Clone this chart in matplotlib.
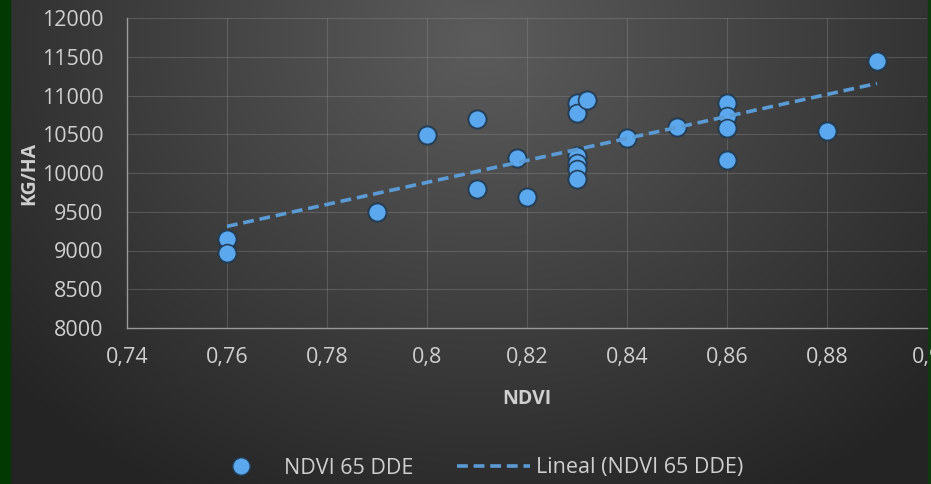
import numpy as np
import matplotlib
matplotlib.use('Agg')
import matplotlib.pyplot as plt
from matplotlib.ticker import FuncFormatter, MultipleLocator
from matplotlib.lines import Line2D
from matplotlib.patches import Rectangle

plt.rcParams['font.family'] = ['Open Sans', 'DejaVu Sans']

# NDVI vs yield readings
ndvi = [0.76, 0.76, 0.79, 0.80, 0.81, 0.81, 0.818, 0.82,
        0.83, 0.83, 0.832, 0.83, 0.83, 0.83, 0.83,
        0.84, 0.85, 0.86, 0.86, 0.86, 0.86, 0.88, 0.89]
kg_ha = [9150, 8970, 9500, 10490, 10700, 9800, 10200, 9690,
         10900, 10780, 10940, 10220, 10130, 10050, 9920,
         10450, 10600, 10900, 10740, 10580, 10170, 10540, 11440]

x_ticks = [0.74, 0.76, 0.78, 0.80, 0.82, 0.84, 0.86, 0.88, 0.90]
series_name = 'NDVI 65 DDE'
trend_name = 'Lineal (NDVI 65 DDE)'

W, H = 931, 484
fig = plt.figure(figsize=(W / 100, H / 100), dpi=100)

# radial dark gradient background
bg = fig.add_axes([0, 0, 1, 1])
yy, xx = np.mgrid[0:H, 0:W]
r = np.sqrt(((xx - 480) / 1.0) ** 2 + ((yy - 40) / 0.85) ** 2)
t = np.clip(r / 620, 0, 1)
c0, c1 = 0x5c, 0x24
val = (c0 + (c1 - c0) * t) / 255
bg.imshow(np.dstack([val, val, val]), extent=[0, W, H, 0], aspect='auto')
bg.set_xlim(0, W)
bg.set_ylim(H, 0)
bg.axis('off')
bg.add_patch(Rectangle((0, 0), 10, H, color='#023802'))
bg.add_patch(Rectangle((928, 0), 3, H, color='#0f3a0f'))

ax = fig.add_axes([127 / W, 1 - 328 / H, 800 / W, 310 / H])
ax.patch.set_alpha(0)

ax.scatter(ndvi, kg_ha, s=210, color='#16222e', alpha=0.5, zorder=3, linewidths=0)
ax.scatter(ndvi, kg_ha, s=165, color='#5ba8ee', edgecolor='#22405c',
           linewidths=1.2, zorder=4)

coef = np.polyfit(ndvi, kg_ha, 1)
xs = np.array([min(ndvi), max(ndvi)])
ax.plot(xs, np.polyval(coef, xs), color='#5b9bd5', lw=2.6,
        dashes=(3, 1.6), zorder=5)

ax.set_xlim(0.74, 0.90)
ax.set_ylim(8000, 12000)
ax.set_xticks(x_ticks)
ax.yaxis.set_major_locator(MultipleLocator(500))


def comma(v, pos):
    s = f'{v:.2f}'.rstrip('0').rstrip('.')
    return s.replace('.', ',')


ax.xaxis.set_major_formatter(FuncFormatter(comma))
ax.grid(True, color='#909090', lw=0.8, alpha=0.35)
ax.set_axisbelow(True)
for side in ['top', 'right']:
    ax.spines[side].set_visible(False)
for side in ['left', 'bottom']:
    ax.spines[side].set_color('#9a9a9a')
    ax.spines[side].set_linewidth(1.0)
ax.tick_params(length=0, colors='#cfcfcf', labelsize=15.5)
ax.tick_params(axis='y', pad=17)
ax.tick_params(axis='x', pad=14)

ax.set_xlabel('NDVI', color='#cfcfcf', fontsize=14, fontweight='bold', labelpad=15)
ax.set_ylabel('KG/HA', color='#cfcfcf', fontsize=14, fontweight='bold', labelpad=2)

handles = [
    Line2D([], [], ls='none', marker='o', markersize=12.5, color='#5ba8ee',
           markeredgecolor='#22405c'),
    Line2D([], [], color='#5b9bd5', lw=2.6, dashes=(3, 1.6)),
]
fig.legend(handles, [series_name, trend_name], loc='center',
           bbox_to_anchor=(474 / W, 1 - 468 / H), ncol=2, frameon=False,
           fontsize=15.5, labelcolor='#cfcfcf', handlelength=3.4,
           handletextpad=0.3, columnspacing=2.0)

fig.savefig('out.png', dpi=100)
